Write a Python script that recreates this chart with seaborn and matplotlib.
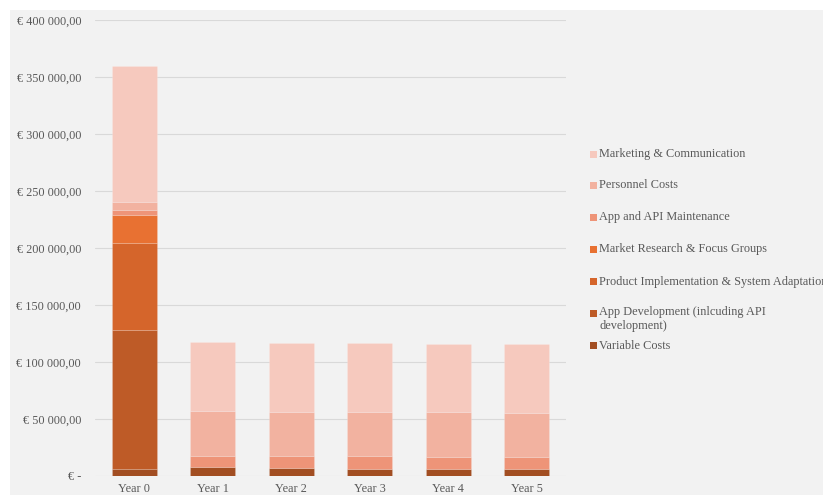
import matplotlib
matplotlib.use('Agg')
import matplotlib.pyplot as plt
import matplotlib.patches as mpatches
from matplotlib.ticker import FuncFormatter, MultipleLocator
import seaborn as sns
import numpy as np

# Cost breakdown per year (EUR)
years = ['Year 0', 'Year 1', 'Year 2', 'Year 3', 'Year 4', 'Year 5']
variable_costs = [6000, 7900, 7200, 6500, 6000, 5800]
app_development = [122000, 0, 0, 0, 0, 0]
product_implementation = [76000, 0, 0, 0, 0, 0]
market_research = [25000, 0, 0, 0, 0, 0]
app_maintenance = [4500, 9800, 10500, 10800, 10800, 10600]
personnel_costs = [6500, 39300, 38700, 38800, 39100, 38800]
marketing = [120000, 60500, 60600, 60400, 60200, 60600]

labels = ['Variable Costs',
          'App Development (inlcuding API\ndevelopment)',
          'Product Implementation & System Adaptation',
          'Market Research & Focus Groups',
          'App and API Maintenance',
          'Personnel Costs',
          'Marketing & Communication']
colors = ['#A24E22', '#BE5B27', '#D5652B', '#E87132', '#EE9478', '#F2B2A0', '#F6C9BE']
layers = [variable_costs, app_development, product_implementation, market_research,
          app_maintenance, personnel_costs, marketing]

bg = '#F2F2F2'
txt = '#595959'

sns.set_theme(style='whitegrid', rc={'axes.facecolor': bg, 'grid.color': '#D9D9D9'})
plt.rcParams['font.family'] = ['Liberation Serif', 'DejaVu Serif']

fig = plt.figure(figsize=(8.23, 4.95), dpi=100, facecolor='white')
fig.add_artist(mpatches.Rectangle((10 / 823, 0), 1, (495 - 9.5) / 495,
                                  transform=fig.transFigure, facecolor=bg,
                                  edgecolor='none', zorder=-5))
ax = fig.add_axes([95 / 823, 19 / 495, 471 / 823, 456 / 495])

bottom = np.zeros(len(years))
for vals, lab, col in zip(layers, labels, colors):
    sns.barplot(x=years, y=vals, bottom=bottom, color=col, width=0.575,
                saturation=1, edgecolor=(1, 1, 1, 0.2), linewidth=0.5, ax=ax)
    bottom = bottom + np.array(vals)

for p in ax.patches:
    if p.get_height() == 0:
        p.set_visible(False)

ax.set_ylim(0, 400000)
ax.set_xlim(-0.5, 5.5)
ax.yaxis.set_major_locator(MultipleLocator(50000))


def euro(v, pos):
    if v == 0:
        return '€ -'
    return '€ ' + f'{v:,.2f}'.replace(',', ' ').replace('.', ',')


ax.yaxis.set_major_formatter(FuncFormatter(euro))
ax.grid(axis='y', color='#D9D9D9', linewidth=0.8)
ax.grid(axis='x', visible=False)
ax.set_axisbelow(True)
for s in ax.spines.values():
    s.set_visible(False)
ax.tick_params(axis='y', length=0, pad=10, labelsize=8.8, labelcolor=txt)
ax.tick_params(axis='x', length=0, pad=5, labelsize=8.8, labelcolor=txt)
ax.set_xlabel('')
ax.set_ylabel('')

# legend on the right, top entry = top of stack
rows_y = [345.7, 313.3, 281.7, 249.3, 217.3, 185.0, 154.0]
for lab, col, yy in zip(labels, colors, rows_y):
    fy = 1 - yy / 495
    fig.add_artist(mpatches.Rectangle((590 / 823, fy - 3.5 / 495), 7 / 823, 7 / 495,
                                      transform=fig.transFigure, facecolor=col,
                                      edgecolor='none'))
    if '\n' in lab:
        fig.text(599 / 823, fy + 7.3 / 495, lab, va='top', ha='left',
                 fontsize=8.8, color=txt, linespacing=1.2)
    else:
        fig.text(599 / 823, fy, lab, va='center', ha='left', fontsize=8.8, color=txt)

fig.savefig('out.png', dpi=100, facecolor='white')
